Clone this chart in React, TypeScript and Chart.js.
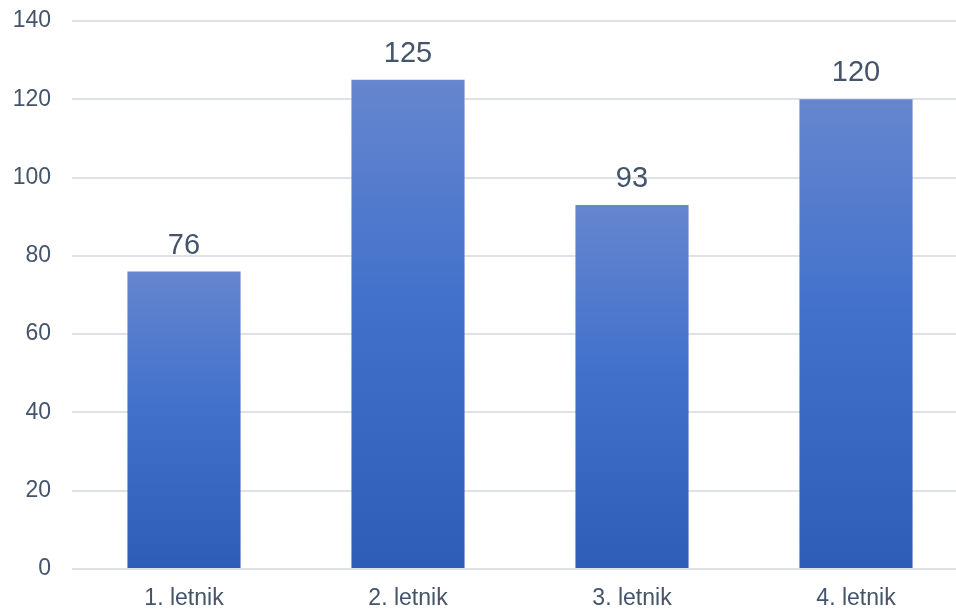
import React, { useEffect, useRef } from "react";
import { Chart, registerables } from "chart.js";

Chart.register(...registerables);

const categories = ["1. letnik", "2. letnik", "3. letnik", "4. letnik"];
const values = [76, 125, 93, 120];
const yTicks = [0, 20, 40, 60, 80, 100, 120, 140];

const FONT = "'Liberation Sans', Arial, sans-serif";
const TEXT = "#44546A";

// Each bar gets its own vertical gradient, light at the top and deep at the base.
function barFill(context: any) {
  const chart = context.chart;
  const yScale = chart.scales?.y;
  if (!chart.chartArea || !yScale || context.raw == null) return "#4472C4";
  const top = yScale.getPixelForValue(context.raw);
  const base = yScale.getPixelForValue(0);
  const g = chart.ctx.createLinearGradient(0, top, 0, base);
  g.addColorStop(0, "#6686CE");
  g.addColorStop(0.45, "#4271CB");
  g.addColorStop(1, "#2E5DB8");
  return g;
}

// Value labels above every bar.
const valueLabels = {
  id: "valueLabels",
  afterDatasetsDraw(chart: any) {
    const { ctx } = chart;
    const meta = chart.getDatasetMeta(0);
    ctx.save();
    ctx.font = `29px ${FONT}`;
    ctx.fillStyle = TEXT;
    ctx.textAlign = "center";
    ctx.textBaseline = "alphabetic";
    meta.data.forEach((bar: any, i: number) => {
      ctx.fillText(String(values[i]), bar.x, bar.y - 18);
    });
    ctx.restore();
  },
};

export default function App() {
  const ref = useRef<HTMLCanvasElement>(null);

  useEffect(() => {
    document.body.style.margin = "0";
    const chart = new Chart(ref.current!, {
      type: "bar",
      data: {
        labels: categories,
        datasets: [
          {
            data: values,
            backgroundColor: barFill,
            borderWidth: 0,
            categoryPercentage: 1,
            barPercentage: 0.505,
          },
        ],
      },
      options: {
        responsive: false,
        animation: false,
        layout: { padding: { top: 21, right: 12, bottom: 0, left: 0 } },
        plugins: {
          legend: { display: false },
          tooltip: { enabled: false },
        },
        scales: {
          x: {
            grid: { display: false, drawTicks: false },
            border: { display: false },
            ticks: {
              color: TEXT,
              font: { family: FONT, size: 23 },
              padding: 16,
              maxRotation: 0,
            },
            afterFit(scale: any) {
              scale.height = 41;
            },
          },
          y: {
            min: 0,
            max: 140,
            afterBuildTicks(scale: any) {
              scale.ticks = yTicks.map((v) => ({ value: v }));
            },
            grid: { color: "#DFE2E9", lineWidth: 2, drawTicks: false },
            border: { display: false },
            ticks: {
              color: TEXT,
              font: { family: FONT, size: 23 },
              padding: 21,
            },
            afterFit(scale: any) {
              scale.width = 72;
              scale.paddingTop = 0;
              scale.paddingBottom = 0;
            },
          },
        },
      },
      plugins: [valueLabels],
    });
    return () => chart.destroy();
  }, []);

  return (
    <div
      style={{
        position: "fixed",
        left: 0,
        top: 0,
        width: 956,
        height: 610,
        overflow: "hidden",
        background: "#FFFFFF",
      }}
    >
      <canvas ref={ref} width={980} height={610} style={{ display: "block" }} />
    </div>
  );
}
